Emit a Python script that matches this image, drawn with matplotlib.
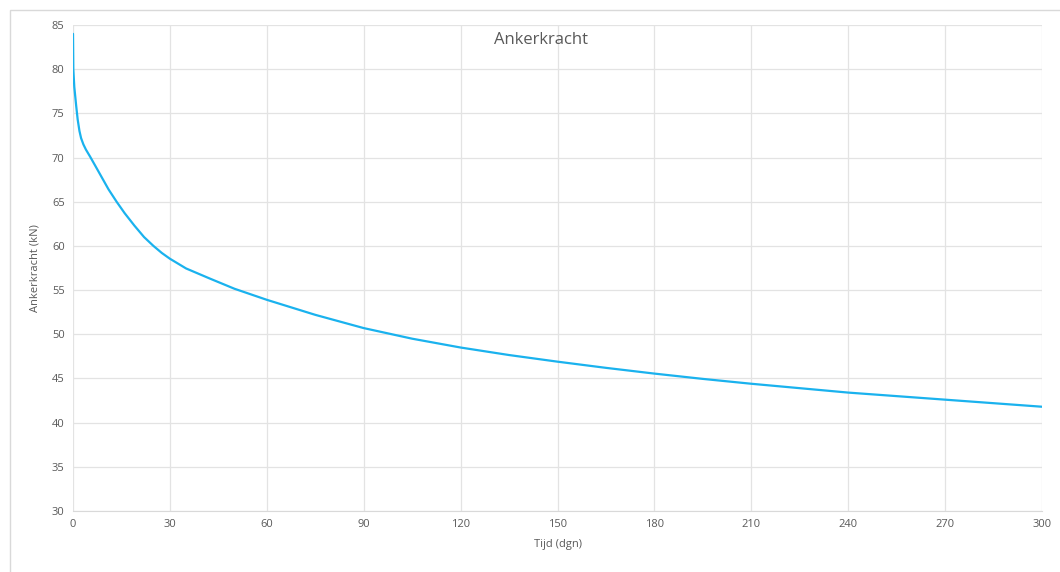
import matplotlib.pyplot as plt
import matplotlib.patches as mpatches

# tijd (dagen) en ankerkracht (kN)
tijd = [0, 0.1, 0.4, 0.7, 1.0, 1.45, 2.0, 2.5, 3.2, 4, 5.3, 7, 9, 11, 13.5,
        16, 19, 22, 24.9, 27.5, 30, 35, 42.4, 50, 60, 75, 90, 105, 120, 135,
        150, 165, 180, 195, 210, 225, 240, 255, 270, 285, 300]
kracht = [84.0, 80.0, 78.0, 76.9, 75.8, 74.3, 73.0, 72.2, 71.5, 70.9, 70.1,
          69.0, 67.7, 66.4, 65.0, 63.7, 62.3, 61.0, 60.0, 59.2, 58.55, 57.45,
          56.3, 55.15, 53.9, 52.2, 50.7, 49.5, 48.5, 47.65, 46.9, 46.2, 45.55,
          44.95, 44.4, 43.9, 43.4, 43.0, 42.6, 42.2, 41.8]

x_ticks = list(range(0, 301, 30))
y_ticks = list(range(30, 86, 5))

plt.rcParams['font.family'] = ['Open Sans', 'DejaVu Sans']
grijs = '#595959'

fig = plt.figure(figsize=(10.6, 5.72), dpi=100)
ax = fig.add_axes([73 / 1060, 1 - 511 / 572, 969 / 1060, 486 / 572])

# kader rond de grafiek
fig.patches.append(mpatches.Rectangle((10 / 1060, -0.1), 1.2, 1 - 9.5 / 572 + 0.1,
                                      transform=fig.transFigure, fill=False,
                                      edgecolor='#D9D9D9', linewidth=1))

ax.plot(tijd, kracht, color='#1AB2EE', linewidth=1.6, zorder=3,
        solid_joinstyle='round', solid_capstyle='round')

ax.set_xlim(0, 300)
ax.set_ylim(30, 85)
ax.set_xticks(x_ticks)
ax.set_yticks(y_ticks)
ax.grid(True, color='#E3E3E3', linewidth=0.9)
ax.set_axisbelow(True)
for s in ['top', 'right', 'left']:
    ax.spines[s].set_visible(False)
ax.spines['bottom'].set_color('#D9D9D9')
ax.tick_params(length=0, labelsize=8, colors=grijs, pad=6)

ax.text(0.483, 0.985, 'Ankerkracht', transform=ax.transAxes, ha='center',
        va='top', fontsize=12, color=grijs)
ax.set_xlabel('Tijd (dgn)', fontsize=8, color=grijs, labelpad=6)
ax.set_ylabel('Ankerkracht (kN)', fontsize=8, color=grijs, labelpad=8)

fig.savefig('out.png', dpi=100)
